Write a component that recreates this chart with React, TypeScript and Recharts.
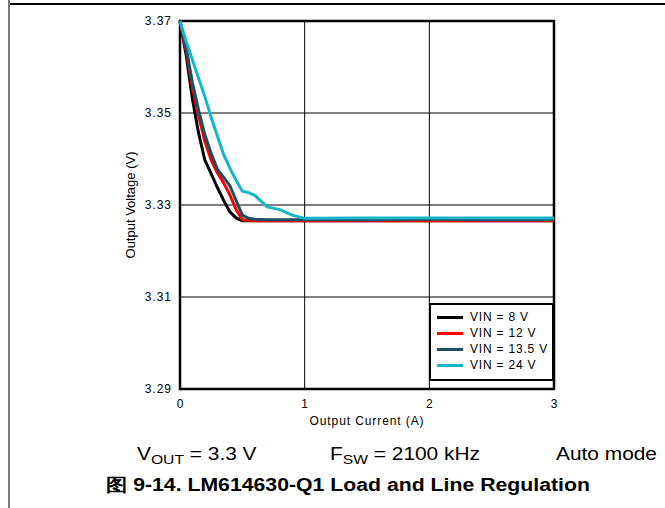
import React from "react";
import {
  LineChart,
  Line,
  XAxis,
  YAxis,
  CartesianGrid,
  ReferenceArea,
} from "recharts";

// load current in A, shared by every curve
const current = [0, 0.05, 0.1, 0.15, 0.2, 0.25, 0.3, 0.35, 0.4, 0.45, 0.5, 0.55, 0.6, 0.7, 0.8, 0.9, 1.0, 1.5, 2.0, 2.5, 3.0];

// output voltage (V)
const vin8 = [3.37, 3.3625, 3.353, 3.3455, 3.3397, 3.3368, 3.3338, 3.331, 3.3285, 3.3272, 3.3266, 3.3266, 3.3266, 3.3266, 3.3266, 3.3266, 3.3266, 3.3266, 3.3266, 3.3266, 3.3266];
const vin12 = [3.37, 3.3635, 3.3555, 3.3493, 3.3438, 3.3398, 3.337, 3.3348, 3.3322, 3.329, 3.3268, 3.3267, 3.3266, 3.3266, 3.3266, 3.3266, 3.3266, 3.3266, 3.3266, 3.3266, 3.3266];
const vin135 = [3.37, 3.364, 3.3565, 3.3505, 3.3452, 3.3412, 3.3378, 3.336, 3.3342, 3.331, 3.3278, 3.3271, 3.3269, 3.3268, 3.3268, 3.3268, 3.3268, 3.3268, 3.3269, 3.3268, 3.3268];
const vin24 = [3.37, 3.3655, 3.3615, 3.3575, 3.3535, 3.349, 3.345, 3.341, 3.338, 3.3354, 3.333, 3.3327, 3.3321, 3.3296, 3.329, 3.3278, 3.3271, 3.3272, 3.3272, 3.3272, 3.3272];

const xTicks = [0, 1, 2, 3];
const yTicks = [3.29, 3.31, 3.33, 3.35, 3.37];

const series = [
  { key: "v8", name: "VIN = 8 V", values: vin8, color: "#000000" },
  { key: "v12", name: "VIN = 12 V", values: vin12, color: "#ff0000" },
  { key: "v135", name: "VIN = 13.5 V", values: vin135, color: "#1c4f5f" },
  { key: "v24", name: "VIN = 24 V", values: vin24, color: "#14b6c9" },
];

const data = current.map((c, i) => {
  const row: Record<string, number> = { current: c };
  series.forEach((s) => (row[s.key] = s.values[i]));
  return row;
});

const font = 'Arial, "Liberation Sans", sans-serif';

// the source image is a bit wide, so text gets stretched horizontally
const wide = { transform: "scaleX(1.16)", transformOrigin: "0 0", whiteSpace: "nowrap" as const };

// legend drawn as an overlay so it doesn't steal plot height
function LegendBox() {
  return (
    <div
      style={{
        position: "absolute",
        left: 429,
        top: 303,
        width: 121,
        height: 70,
        border: "2px solid #000",
        background: "#fff",
        padding: "4px 0 0 0",
        fontFamily: font,
        fontSize: 12,
        letterSpacing: 0.8,
        color: "#000",
      }}
    >
      {series.map((s) => (
        <div key={s.key} style={{ display: "flex", alignItems: "center", height: 16 }}>
          <span style={{ display: "inline-block", width: 26, height: 3, background: s.color, marginLeft: 6, marginRight: 7 }} />
          <span>{s.name}</span>
        </div>
      ))}
    </div>
  );
}

export default function App() {
  return (
    <div style={{ position: "absolute", left: 0, top: 0, width: 665, height: 508, background: "#fff", fontFamily: font }}>
      <div style={{ position: "absolute", left: 9, right: 0, top: 3, height: 2, background: "#000" }} />
      <div style={{ position: "absolute", left: 8, top: 0, width: 2, height: 508, background: "#777" }} />

      <LineChart width={665} height={508} data={data} margin={{ top: 21, right: 111, left: 120, bottom: 89 }}>
        <CartesianGrid stroke="#000" strokeWidth={1} />
        <XAxis
          dataKey="current"
          type="number"
          domain={[0, 3]}
          ticks={xTicks}
          tickLine={false}
          axisLine={false}
          tickMargin={4}
          height={30}
          tick={{ fill: "#000", fontSize: 12, fontFamily: font }}
          label={{ value: "Output Current (A)", position: "insideBottom", offset: -6, fill: "#000", fontSize: 12, fontFamily: font, letterSpacing: 0.9 }}
        />
        <YAxis
          type="number"
          domain={[3.29, 3.37]}
          ticks={yTicks}
          tickFormatter={(v: number) => v.toFixed(2)}
          tickLine={false}
          axisLine={false}
          width={60}
          tick={{ fill: "#000", fontSize: 12, fontFamily: font, letterSpacing: 1 }}
          label={{
            value: "Output Voltage (V)",
            angle: -90,
            position: "insideLeft",
            offset: 10,
            fill: "#000",
            fontSize: 13,
            fontFamily: font,
            style: { textAnchor: "middle" },
          }}
        />
        {series.map((s) => (
          <Line
            key={s.key}
            type="linear"
            dataKey={s.key}
            name={s.name}
            stroke={s.color}
            strokeWidth={3}
            dot={false}
            activeDot={false}
            isAnimationActive={false}
          />
        ))}
        <ReferenceArea x1={0} x2={3} y1={3.29} y2={3.37} fill="none" stroke="#000" strokeWidth={2.5} ifOverflow="visible" />
      </LineChart>

      <LegendBox />

      <div style={{ position: "absolute", left: 137, top: 444, fontSize: 18, ...wide }}>
        V<sub style={{ fontSize: 13.5, verticalAlign: -4 }}>OUT</sub> = 3.3 V
      </div>
      <div style={{ position: "absolute", left: 330, top: 444, fontSize: 18, ...wide }}>
        F<sub style={{ fontSize: 13.5, verticalAlign: -4 }}>SW</sub> = 2100 kHz
      </div>
      <div style={{ position: "absolute", left: 556, top: 444, fontSize: 18, ...wide }}>Auto mode</div>
      <div style={{ position: "absolute", left: 106, top: 473, fontSize: 18, fontWeight: "bold", ...wide, transform: "scaleX(1.18)" }}>
        图 9-14. LM614630-Q1 Load and Line Regulation
      </div>
    </div>
  );
}
